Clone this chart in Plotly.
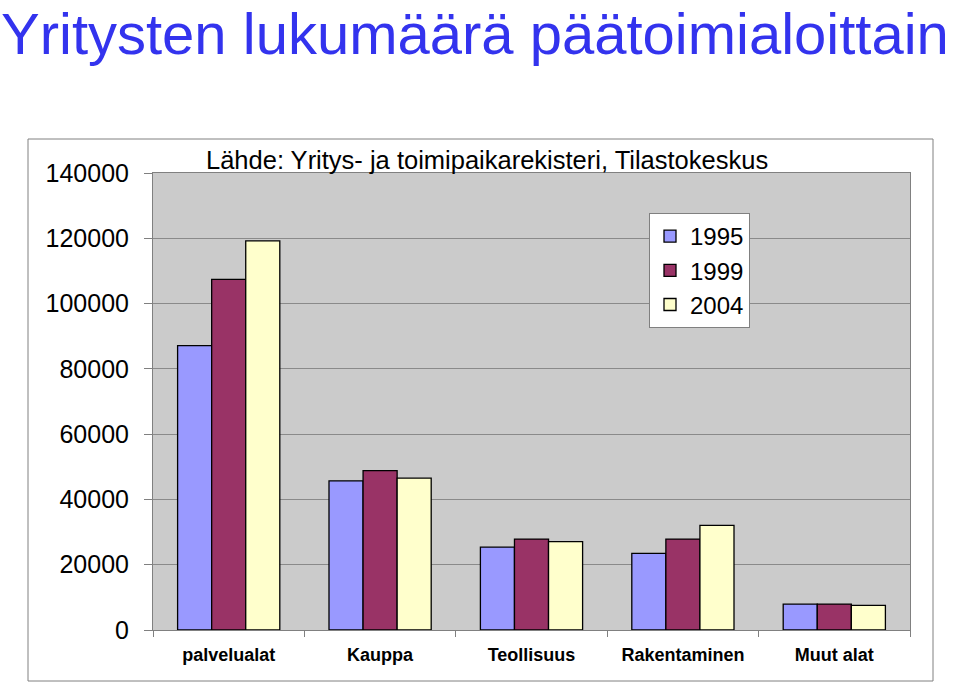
import plotly.graph_objects as go

categories = ["palvelualat", "Kauppa", "Teollisuus", "Rakentaminen", "Muut alat"]
years = ["1995", "1999", "2004"]
values_1995 = [87100, 45700, 25400, 23500, 7950]
values_1999 = [107400, 48800, 27850, 27850, 7950]
values_2004 = [119200, 46550, 27050, 32050, 7550]
colors = ["#9999FF", "#993366", "#FFFFCC"]
y_ticks = [0, 20000, 40000, 60000, 80000, 100000, 120000, 140000]

FONT = "Liberation Sans, Arial, sans-serif"

fig = go.Figure()
for name, vals, col in zip(years, [values_1995, values_1999, values_2004], colors):
    fig.add_trace(go.Bar(
        x=categories, y=vals, name=name,
        marker=dict(color=col, line=dict(color="#000000", width=1.3)),
    ))

# plot-area pixel geometry
L, R, T, B = 153, 50, 173, 54
W, H = 960, 684
pw, ph = W - L - R, H - T - B

def px_x(x):
    return (x - L) / pw

def px_y(y):
    return (H - B - y) / ph

fig.update_layout(
    width=W, height=H,
    margin=dict(l=L, r=R, t=T, b=B),
    paper_bgcolor="white",
    plot_bgcolor="#CBCBCB",
    barmode="group",
    bargap=0.325,
    bargroupgap=0,
    font=dict(family=FONT, color="black"),
    showlegend=True,
    legend=dict(
        x=px_x(649), y=px_y(213), xanchor="left", yanchor="top",
        bgcolor="white", bordercolor="#808080", borderwidth=1,
        font=dict(size=24, family=FONT, color="black"),
        traceorder="normal",
        itemwidth=30,
    ),
    xaxis=dict(
        type="category",
        showline=True, linecolor="#808080", linewidth=1, mirror=True,
        ticks="outside", tickson="boundaries", ticklen=6, tickcolor="#808080",
        ticklabelstandoff=8,
        tickfont=dict(size=18, family=FONT, weight="bold", color="black"),
        showgrid=False,
    ),
    yaxis=dict(
        range=[0, 140000],
        tickvals=y_ticks,
        ticktext=[str(v) for v in y_ticks],
        showline=True, linecolor="#808080", linewidth=1, mirror=True,
        ticks="outside", ticklen=8, tickcolor="#808080",
        ticklabelstandoff=10,
        tickfont=dict(size=25, family=FONT, color="black"),
        showgrid=True, gridcolor="#8A8A8A", gridwidth=1,
        zeroline=False,
    ),
    shapes=[dict(
        type="rect", xref="paper", yref="paper",
        x0=px_x(28), x1=px_x(933), y0=px_y(681), y1=px_y(139),
        line=dict(color="#808080", width=1), fillcolor="rgba(0,0,0,0)", layer="below",
    )],
    annotations=[
        dict(
            text="Yritysten lukumäärä päätoimialoittain",
            xref="paper", yref="paper", x=px_x(0), y=px_y(0),
            xanchor="left", yanchor="top", showarrow=False, borderpad=0,
            font=dict(size=58, family=FONT, color="#3333EE"),
        ),
        dict(
            text="Lähde: Yritys- ja toimipaikarekisteri, Tilastokeskus",
            xref="paper", yref="paper", x=px_x(487), y=px_y(160),
            xanchor="center", yanchor="middle", showarrow=False,
            font=dict(size=25.5, family=FONT, color="black"),
        ),
    ],
)

fig.write_html("out.html")
